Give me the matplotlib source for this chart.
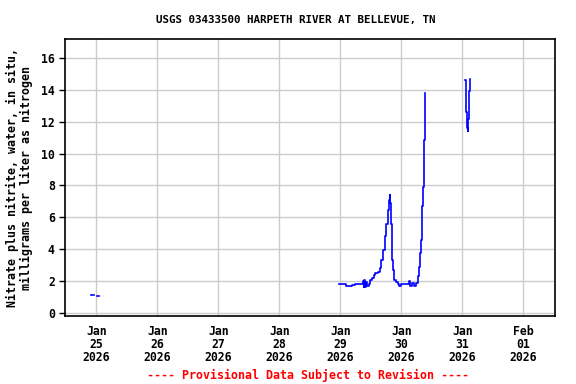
import numpy as np
import matplotlib
matplotlib.use("Agg")
import matplotlib.pyplot as plt

# Data: hours since 2026-01-25 00:00, nitrate (mg/L as N)
seg1_h = [-2.0, -0.9, np.nan, 0.3, 0.9]
seg1_v = [1.10, 1.10, np.nan, 1.08, 1.06]

seg2_px = [339, 345.5, 345.7, 351.5, 352, 354, 355, 361.7, 362.3, 363, 363.5, 364, 365, 366,
           367, 368.3, 370, 371.7, 373.3, 375, 378, 380, 381, 382.7, 384.3, 385.7, 387.3,
           388.3, 389.3, 390, 390.7, 391.7, 392.7, 394, 396, 397.3, 398.7, 400.7, 406.7,
           408.3, 410, 411.7, 414, 416, 417.3, 418.3, 419, 420, 420.7, 422, 422.7, 423.7, 424.3]
seg2_v = [1.80, 1.80, 1.71, 1.71, 1.75, 1.75, 1.80, 1.80, 2.00, 2.00, 1.65, 2.05, 1.65, 1.95,
          1.72, 1.80, 2.05, 2.20, 2.40, 2.50, 2.60, 2.80, 3.30, 3.95, 4.80, 5.60, 6.46,
          7.10, 7.40, 6.90, 5.60, 3.30, 2.70, 2.07, 1.95, 1.80, 1.67, 1.80, 1.80,
          2.00, 1.70, 1.85, 1.70, 1.85, 2.30, 2.70, 2.90, 3.75, 4.60, 6.70, 7.90, 10.85, 13.80]
seg2_h = [(p - 96) * 24 / 61 for p in seg2_px]

seg3_px = [465.0, 465.6, 466.3, 467.0, 467.4, 467.8, 468.4, 469.3]
seg3_v = [14.6, 12.6, 11.9, 11.6, 11.4, 12.2, 13.9, 14.7]
seg3_h = [(p - 96) * 24 / 61 for p in seg3_px]

tick_h = [0, 24, 48, 72, 96, 120, 144, 168]
tick_labels = ["Jan\n25\n2026", "Jan\n26\n2026", "Jan\n27\n2026", "Jan\n28\n2026",
               "Jan\n29\n2026", "Jan\n30\n2026", "Jan\n31\n2026", "Feb\n01\n2026"]
y_ticks = [0, 2, 4, 6, 8, 10, 12, 14, 16]

font = "DejaVu Sans Mono"
fig = plt.figure(figsize=(5.76, 3.84), dpi=100)
ax = fig.add_axes([0.112, 0.1758, 0.8515, 0.7239])

for h, v in [(seg1_h, seg1_v), (seg2_h, seg2_v), (seg3_h, seg3_v)]:
    ax.plot(h, v, color="#0000ff", lw=1.2, drawstyle="steps-post", zorder=3)

ax.set_xlim(-12.5, 180.5)
ax.set_ylim(-0.22, 17.22)
ax.set_xticks(tick_h)
ax.set_xticklabels(tick_labels, fontfamily=font, fontweight="bold", fontsize=8.3,
                   linespacing=1.0)
ax.set_yticks(y_ticks)
ax.set_yticklabels([str(t) for t in y_ticks], fontfamily=font, fontweight="bold", fontsize=8.3)
ax.tick_params(axis="x", length=0, pad=6)
ax.tick_params(axis="y", length=4, width=1, direction="out", pad=3)
ax.grid(True, color="#cccccc", lw=1.0, zorder=0)
for s in ax.spines.values():
    s.set_linewidth(1.2)
    s.set_color("black")

ax.set_ylabel("Nitrate plus nitrite, water, in situ,\nmilligrams per liter as nitrogen",
              fontfamily=font, fontweight="bold", fontsize=8.4, linespacing=1.05,
              labelpad=6)
fig.text(0.513, 0.949, "USGS 03433500 HARPETH RIVER AT BELLEVUE, TN", ha="center",
         va="center", fontfamily=font, fontweight="bold", fontsize=7.8)
fig.text(0.535, 0.023, "---- Provisional Data Subject to Revision ----", ha="center",
         va="center", fontfamily=font, fontweight="bold", fontsize=8.4, color="red")

fig.savefig("out.png", dpi=100)
